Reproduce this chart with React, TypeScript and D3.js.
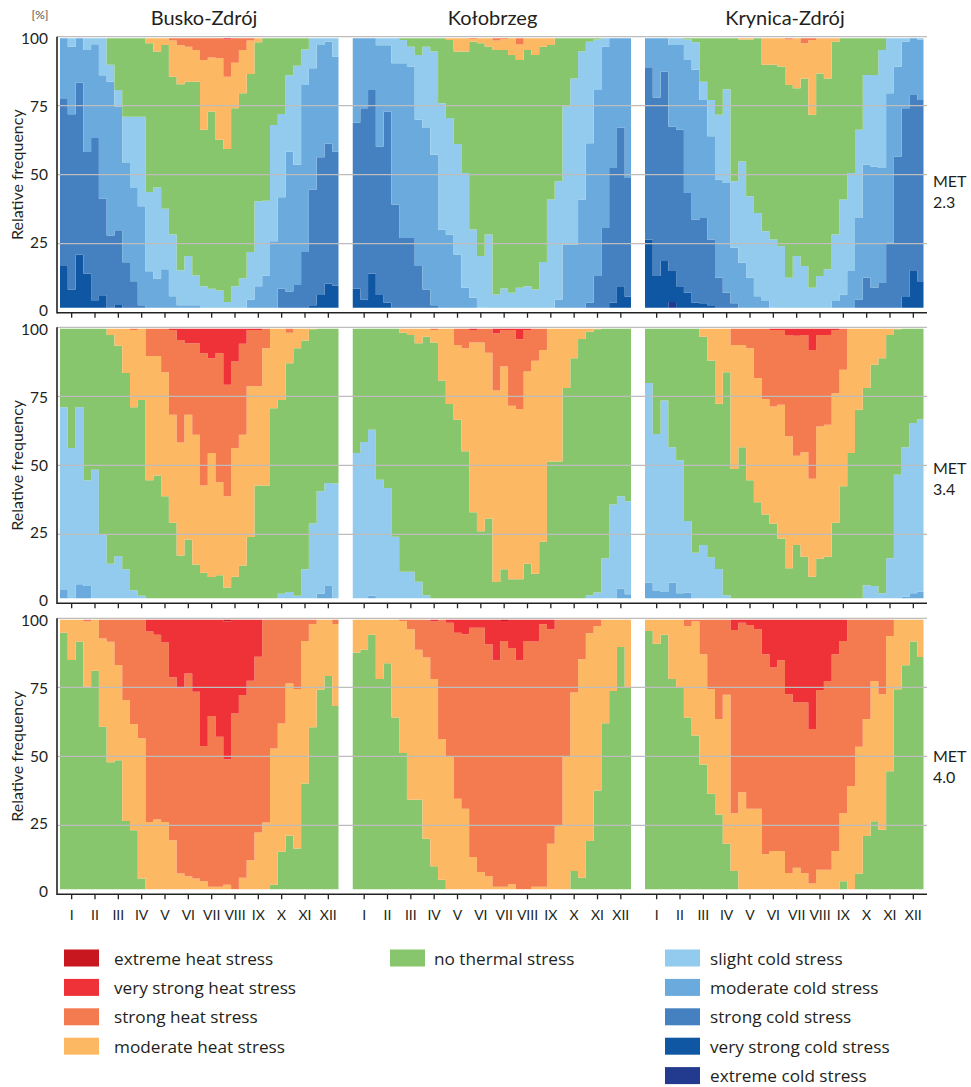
import React from 'react';
import * as d3 from 'd3';

type Key = 'ec' | 'vsc' | 'sc' | 'mc' | 'slc' | 'none' | 'mh' | 'sh' | 'vsh' | 'eh';

// ---- categories / labels ----
const MONTHS = ['I', 'II', 'III', 'IV', 'V', 'VI', 'VII', 'VIII', 'IX', 'X', 'XI', 'XII'];
const STATIONS = ['Busko-Zdrój', 'Kołobrzeg', 'Krynica-Zdrój'];
const MET_LEVELS = ['2.3', '3.4', '4.0'];
const Y_TICKS = [0, 25, 50, 75, 100];

const CATEGORY_LABELS: Record<Key, string> = {
  eh: 'extreme heat stress',
  vsh: 'very strong heat stress',
  sh: 'strong heat stress',
  mh: 'moderate heat stress',
  none: 'no thermal stress',
  slc: 'slight cold stress',
  mc: 'moderate cold stress',
  sc: 'strong cold stress',
  vsc: 'very strong cold stress',
  ec: 'extreme cold stress',
};
const CATEGORY_COLORS: Record<Key, string> = {
  eh: '#c8171e',
  vsh: '#ef3237',
  sh: '#f47b4f',
  mh: '#fdb863',
  none: '#88c66e',
  slc: '#92cbee',
  mc: '#6aaadd',
  sc: '#4580c1',
  vsc: '#0f57a2',
  ec: '#233b8e',
};
const LEGEND_COLUMNS: Key[][] = [
  ['eh', 'vsh', 'sh', 'mh'],
  ['none'],
  ['slc', 'mc', 'sc', 'vsc', 'ec'],
];

// ---- data: cumulative upper bound [%] of each class, 36 ten-day periods ----
// Busko-Zdrój, MET 2.3
const busko23_vsc = [17.2, 8.4, 21, 14.2, 4.5, 6.3, 1, 2.8, 0, 0, 0, 0, 0, 0, 0, 0, 0, 0, 0, 0, 0, 0, 0, 0, 0, 0, 0, 0, 0, 0, 0, 0, 2.7, 6.4, 10.5, 9.9];
const busko23_sc = [77.7, 71.9, 83.4, 58.2, 63.3, 41.3, 28, 29.9, 18.3, 11.4, 2.7, 0, 0, 0, 0, 0, 0, 0, 0, 0, 0, 0, 0, 0, 0, 0, 0, 1, 8.7, 7.7, 10, 22, 44.6, 56.3, 61.2, 58.4];
const busko23_mc = [100, 96.4, 100, 95.2, 97.3, 86, 83.7, 74.7, 54.2, 45.2, 38.6, 15, 12.4, 15.7, 6, 2.7, 2.7, 2.7, 0, 0, 0, 0, 0, 0, 4.8, 9.6, 13.5, 25.9, 41.8, 58.4, 53.6, 82.5, 88.6, 97, 98.2, 92.8];
const busko23_slc = [100, 100, 100, 100, 100, 100, 89.8, 80.7, 71, 71, 71, 43.7, 45.4, 37.7, 28.3, 15.4, 20.5, 13.5, 9.6, 8.7, 8, 3.9, 9.6, 12.5, 22, 40.4, 40.6, 68, 72, 86, 89.5, 95.4, 100, 100, 100, 100];
const busko23_none = [100, 100, 100, 100, 100, 100, 100, 100, 100, 100, 100, 97.6, 94.6, 97, 85.5, 82.8, 83.7, 83.7, 66.3, 72.9, 62.7, 59.3, 74.1, 79.5, 86.5, 98, 100, 100, 100, 100, 100, 100, 100, 100, 100, 100];
const busko23_mh = [100, 100, 100, 100, 100, 100, 100, 100, 100, 100, 100, 100, 100, 100, 98.6, 97, 96.4, 95.2, 91.6, 92.5, 92.2, 85.5, 90.6, 95.2, 98.6, 100, 100, 100, 100, 100, 100, 100, 100, 100, 100, 100];
const busko23_sh = [100, 100, 100, 100, 100, 100, 100, 100, 100, 100, 100, 100, 100, 100, 100, 100, 100, 100, 100, 100, 100, 99, 100, 100, 100, 100, 100, 100, 100, 100, 100, 100, 100, 100, 100, 100];

// Kołobrzeg, MET 2.3
const kolo23_vsc = [8.7, 4.8, 14.2, 6.4, 3.6, 0, 0, 0, 0, 0, 0, 0, 0, 0, 0, 0, 0, 0, 0, 0, 0, 0, 0, 0, 0, 0, 0, 0, 0, 0, 0, 0, 0, 3.6, 9.6, 5.8];
const kolo23_sc = [68.9, 74.1, 80.7, 60.2, 72.9, 39.2, 27.1, 27.1, 16.9, 8.4, 2.7, 0, 0, 0, 0, 0, 0, 0, 0, 0, 0, 0, 0, 0, 0, 0, 0, 0, 0, 1, 3.6, 13.3, 30.7, 52.4, 67.1, 48.8];
const kolo23_mc = [100, 100, 100, 96.9, 96.9, 90.4, 90.4, 89.2, 69.9, 66.9, 57.2, 30.1, 28.3, 21.1, 9, 5.4, 1.8, 0, 0, 0, 0, 0, 0, 0, 0, 0, 4.8, 24.7, 24.7, 41, 61.4, 80.7, 96.4, 100, 100, 100];
const kolo23_slc = [100, 100, 100, 100, 100, 100, 98.8, 96.4, 93.4, 96.4, 94.6, 75.9, 70.5, 61.1, 50.6, 30.1, 20.5, 28.3, 6.6, 8.8, 7.2, 9, 9.6, 8.4, 18.4, 41, 47.6, 74.7, 84.9, 94.6, 98.2, 99, 100, 100, 100, 100];
const kolo23_none = [100, 100, 100, 100, 100, 100, 100, 100, 100, 100, 100, 100, 98.8, 94.6, 94.6, 98.2, 97.6, 96.4, 95.2, 95.2, 93.4, 91.6, 95.2, 93.4, 96.4, 97, 100, 100, 100, 100, 100, 100, 100, 100, 100, 100];
const kolo23_mh = [100, 100, 100, 100, 100, 100, 100, 100, 100, 100, 100, 100, 100, 100, 100, 99.2, 100, 100, 98.6, 99.2, 100, 97.2, 100, 100, 100, 100, 100, 100, 100, 100, 100, 100, 100, 100, 100, 100];

// Krynica-Zdrój, MET 2.3
const kryn23_ec = [0, 0, 0, 3.9, 0, 0, 0, 0, 0, 0, 0, 0, 0, 0, 0, 0, 0, 0, 0, 0, 0, 0, 0, 0, 0, 0, 0, 0, 0, 0, 0, 0, 0, 0, 0, 0];
const kryn23_vsc = [26.5, 13.3, 18.7, 15.1, 9.6, 7.2, 3.6, 3.4, 2.7, 0, 0, 0, 0, 0, 0, 0, 0, 0, 0, 0, 0, 0, 0, 0, 0, 0, 0, 0, 0, 0, 0, 0, 0, 5.7, 15.4, 11.4];
const kryn23_sc = [88.9, 78, 87.3, 67.5, 66.3, 43.4, 33.7, 34.3, 26.5, 12.7, 7.2, 3.4, 0, 0, 0, 0, 0, 0, 0, 0, 0, 0, 0, 0, 0, 0, 0, 4.8, 12.7, 9, 10.8, 25.3, 56.6, 74.1, 78.9, 77.1];
const kryn23_mc = [100, 100, 100, 97, 97, 91.6, 88, 77.1, 63.9, 48.2, 47, 23.5, 18.1, 12.7, 6, 4.2, 0, 0, 0, 0, 0, 0, 0, 0, 4.2, 6.6, 15.1, 34.3, 53.6, 53, 52.4, 79.5, 89.2, 98.2, 100, 99];
const kryn23_slc = [100, 100, 100, 100, 100, 99, 98, 83.7, 77.1, 71.7, 81, 47.6, 54.8, 42.2, 36.1, 29.5, 26.5, 24.1, 12.7, 20.5, 16.9, 9, 13.3, 15.7, 28.3, 41, 50.6, 66.3, 86.1, 86.1, 95.2, 100, 100, 100, 100, 100];
const kryn23_none = [100, 100, 100, 100, 100, 100, 100, 100, 100, 100, 100, 100, 99, 99, 100, 89.8, 89.8, 89.2, 82.5, 81.3, 84.9, 71.7, 86.7, 84.9, 98.2, 100, 100, 100, 100, 100, 100, 100, 100, 100, 100, 100];
const kryn23_mh = [100, 100, 100, 100, 100, 100, 100, 100, 100, 100, 100, 100, 100, 100, 100, 100, 100, 100, 99, 100, 97.6, 98.8, 99.4, 99.4, 100, 100, 100, 100, 100, 100, 100, 100, 100, 100, 100, 100];

// Busko-Zdrój, MET 3.4
const busko34_mc = [4.8, 0, 6.9, 6.3, 0, 0, 0, 0, 0, 0, 0, 0, 0, 0, 0, 0, 0, 0, 0, 0, 0, 0, 0, 0, 0, 0, 0, 0, 0, 0, 0, 0, 0, 3.5, 6.3, 0];
const busko34_slc = [71, 56.3, 71, 44.6, 48.4, 24.9, 14.3, 17.1, 12.3, 4.7, 2.7, 1.7, 0, 0, 0, 0, 0, 0, 0, 0, 0, 0, 0, 0, 0, 0, 0, 0, 3.5, 4.1, 2.7, 12.3, 28.9, 40.6, 43.6, 43.4];
const busko34_none = [100, 100, 100, 100, 100, 100, 97.2, 93.3, 83.4, 71, 73.7, 44.6, 46.3, 38.8, 29.2, 17.3, 23.1, 14.1, 11.1, 9.5, 10.2, 5.7, 9.6, 13.7, 24, 42.7, 42.7, 70.7, 73.7, 87, 92.4, 95.2, 99.3, 100, 100, 100];
const busko34_mh = [100, 100, 100, 100, 100, 100, 100, 100, 100, 99, 100, 89.6, 89.6, 83.7, 68.3, 58.3, 68.3, 61.1, 42.7, 54.5, 43.9, 38.8, 56.3, 61.1, 78.6, 78.6, 92.4, 100, 100, 98, 100, 100, 100, 100, 100, 100];
const busko34_sh = [100, 100, 100, 100, 100, 100, 100, 100, 100, 100, 100, 100, 100, 100, 99, 95.4, 94.2, 94.2, 90.6, 88.8, 90.6, 79.2, 87.6, 94, 99, 99, 100, 100, 100, 100, 100, 100, 100, 100, 100, 100];

// Kołobrzeg, MET 3.4
const kolo34_mc = [0, 0, 2.7, 0, 0, 0, 0, 0, 0, 0, 0, 0, 0, 0, 0, 0, 0, 0, 0, 0, 0, 0, 0, 0, 0, 0, 0, 0, 0, 0, 0, 0, 0, 0, 5.4, 3.3];
const kolo34_slc = [54.5, 58.4, 62.9, 44.8, 41.8, 24.1, 11.4, 11.4, 7.8, 2.9, 0, 0, 0, 0, 0, 0, 0, 0, 0, 0, 0, 0, 0, 0, 0, 0, 0, 0, 0, 0, 2.9, 3.9, 16.3, 35.8, 38.8, 37];
const kolo34_none = [100, 100, 100, 100, 100, 100, 98, 97.2, 94.2, 96.6, 94.5, 80.7, 72.2, 66.5, 55.1, 33, 26.1, 30.7, 7.7, 12.3, 8.7, 8.7, 14.3, 10.7, 22.3, 51.4, 51.4, 78, 88.8, 95.8, 98.4, 99.3, 100, 100, 100, 100];
const kolo34_mh = [100, 100, 100, 100, 100, 100, 100, 100, 100, 100, 99, 100, 100, 93.6, 92.4, 94.5, 94.5, 90.8, 77.1, 85.8, 71.6, 70.4, 84, 87.9, 91.8, 100, 100, 100, 100, 100, 100, 100, 100, 100, 100, 100];
const kolo34_sh = [100, 100, 100, 100, 100, 100, 100, 100, 100, 100, 100, 100, 100, 100, 100, 99, 100, 100, 97.8, 99, 99, 95.7, 99, 100, 100, 100, 100, 100, 100, 100, 100, 100, 100, 100, 100, 100];

// Krynica-Zdrój, MET 3.4
const kryn34_mc = [7.5, 4.5, 4.1, 7.5, 3.6, 3.9, 0, 0, 0, 0, 0, 0, 0, 0, 0, 0, 0, 0, 0, 0, 0, 0, 0, 0, 0, 0, 0, 0, 0, 0, 0, 0, 0, 2.4, 3.6, 4.2];
const kryn34_slc = [79.8, 61.3, 73.5, 56.5, 51.8, 29.8, 18.3, 21.1, 16.6, 12.4, 2.9, 0, 0, 0, 0, 0, 0, 0, 0, 0, 0, 0, 0, 0, 0, 0, 0, 0, 6.5, 6.3, 3.6, 16.3, 46.6, 56.5, 65.3, 66.7];
const kryn34_none = [100, 100, 100, 100, 100, 100, 100, 96.6, 88, 72.3, 83.7, 48.7, 56.5, 44.6, 36.6, 32.2, 28.9, 23.5, 12.7, 21.1, 16.9, 9.6, 16.1, 16.9, 29.2, 42.4, 54.5, 70.1, 78, 86.4, 88.8, 97.2, 99.3, 100, 100, 100];
const kryn34_mh = [100, 100, 100, 100, 100, 100, 100, 100, 100, 100, 100, 93.6, 93.6, 92.4, 81.6, 74, 71.3, 71.9, 60.5, 53.5, 54.7, 45.1, 64.1, 64.7, 76.1, 84.6, 100, 100, 100, 100, 100, 100, 100, 100, 100, 100];
const kryn34_sh = [100, 100, 100, 100, 100, 100, 100, 100, 100, 100, 100, 100, 100, 100, 100, 100, 99, 99, 97.2, 96.9, 97.2, 91.8, 97.2, 97.2, 99, 100, 100, 100, 100, 100, 100, 100, 100, 100, 100, 100];

// Busko-Zdrój, MET 4.0
const busko40_none = [94.8, 84.9, 91.5, 75.2, 81, 60.7, 47.8, 48.6, 26.6, 23.2, 5.7, 0, 0, 0, 0, 0, 0, 0, 0, 0, 0, 0, 0, 0, 0, 0, 0, 3.5, 15.4, 21.2, 16.6, 40.1, 60.5, 74.2, 79.1, 68.2];
const busko40_mh = [100, 100, 100, 98.8, 100, 92.7, 91.5, 83.1, 70.4, 61.7, 56.5, 26.2, 27.1, 26.2, 19.6, 7.5, 6.5, 5.7, 4.7, 2.7, 2.7, 3.5, 1.7, 6, 12.3, 22.4, 26, 52.8, 61.9, 76.4, 74.4, 91.8, 97.9, 100, 100, 97.9];
const busko40_sh = [100, 100, 100, 100, 100, 100, 100, 100, 100, 100, 100, 95.2, 94, 91.2, 78.6, 74.6, 80, 73.4, 53.7, 64.6, 57.1, 48.9, 65.5, 72.2, 77.4, 86.1, 100, 100, 100, 100, 100, 100, 100, 100, 100, 100];
const busko40_vsh = [100, 100, 100, 100, 100, 100, 100, 100, 100, 100, 100, 100, 100, 100, 100, 100, 100, 100, 100, 100, 100, 98.8, 100, 100, 100, 100, 100, 100, 100, 100, 100, 100, 100, 100, 100, 100];

// Kołobrzeg, MET 4.0
const kolo40_none = [87.6, 88.6, 94, 78, 83.7, 64.1, 51.2, 34.3, 34.3, 20.1, 10.2, 5.3, 0, 0, 0, 0, 0, 0, 0, 0, 0, 0, 0, 0, 0, 0, 0, 0, 8.4, 6, 19.3, 37.6, 62, 73.7, 89.6, 74.9];
const kolo40_mh = [100, 100, 100, 100, 100, 100, 99, 96, 88.6, 85.8, 78, 56.3, 50, 34.6, 31, 13.5, 8.1, 6.6, 2.7, 2.7, 3.6, 1.7, 1.7, 2.7, 2.7, 18.3, 24.9, 50, 73.1, 85.2, 94.6, 97.2, 100, 100, 100, 100];
const kolo40_sh = [100, 100, 100, 100, 100, 100, 100, 100, 100, 100, 98.8, 100, 98.4, 94.8, 94.2, 96.6, 96.6, 90.6, 84.8, 91.8, 89.2, 84.8, 91.8, 91.6, 97.8, 96, 100, 100, 100, 100, 100, 100, 100, 100, 100, 100];
const kolo40_vsh = [100, 100, 100, 100, 100, 100, 100, 100, 100, 100, 100, 100, 100, 100, 100, 100, 100, 100, 100, 99, 100, 100, 100, 100, 100, 100, 100, 100, 100, 100, 100, 100, 100, 100, 100, 100];

// Krynica-Zdrój, MET 4.0
const kryn40_none = [95.4, 90.8, 94, 78, 74.9, 64.1, 57.5, 47, 36.4, 28.9, 18.3, 8.4, 0, 0, 0, 0, 0, 0, 0, 0, 0, 0, 0, 0, 0, 4.7, 0, 7.5, 21.1, 26.5, 23.4, 44.6, 74.3, 83, 91.6, 86];
const kryn40_mh = [100, 100, 100, 100, 100, 97.2, 98.8, 87, 74.3, 63.5, 72.3, 29.4, 37, 31, 31, 14.5, 15.7, 15.7, 7.7, 9.6, 7.7, 3.9, 8.9, 8.9, 15.7, 29.4, 39.2, 53.5, 63.5, 77.3, 72.5, 93.6, 100, 100, 100, 100];
const kryn40_sh = [100, 100, 100, 100, 100, 100, 100, 100, 100, 100, 100, 95.8, 98.4, 97.6, 96, 87, 82.2, 84.8, 72.5, 69.5, 69.5, 59.9, 74, 77.3, 87, 91.8, 100, 100, 100, 100, 100, 100, 100, 100, 100, 100];

// layers bottom -> top; the top-most layer (null) fills up to 100 %
type Layer = [Key, number[] | null];
const PANELS: Layer[][][] = [
  [
    [['vsc', busko23_vsc], ['sc', busko23_sc], ['mc', busko23_mc], ['slc', busko23_slc], ['none', busko23_none], ['mh', busko23_mh], ['sh', busko23_sh], ['vsh', null]],
    [['vsc', kolo23_vsc], ['sc', kolo23_sc], ['mc', kolo23_mc], ['slc', kolo23_slc], ['none', kolo23_none], ['mh', kolo23_mh], ['sh', null]],
    [['ec', kryn23_ec], ['vsc', kryn23_vsc], ['sc', kryn23_sc], ['mc', kryn23_mc], ['slc', kryn23_slc], ['none', kryn23_none], ['mh', kryn23_mh], ['sh', null]],
  ],
  [
    [['mc', busko34_mc], ['slc', busko34_slc], ['none', busko34_none], ['mh', busko34_mh], ['sh', busko34_sh], ['vsh', null]],
    [['mc', kolo34_mc], ['slc', kolo34_slc], ['none', kolo34_none], ['mh', kolo34_mh], ['sh', kolo34_sh], ['vsh', null]],
    [['mc', kryn34_mc], ['slc', kryn34_slc], ['none', kryn34_none], ['mh', kryn34_mh], ['sh', kryn34_sh], ['vsh', null]],
  ],
  [
    [['none', busko40_none], ['mh', busko40_mh], ['sh', busko40_sh], ['vsh', busko40_vsh], ['eh', null]],
    [['none', kolo40_none], ['mh', kolo40_mh], ['sh', kolo40_sh], ['vsh', kolo40_vsh], ['eh', null]],
    [['none', kryn40_none], ['mh', kryn40_mh], ['sh', kryn40_sh], ['vsh', null]],
  ],
];

// ---- layout ----
const W = 971;
const H = 1087;
const N = 36;
const PANEL_X = [60, 352.5, 645];
const PANEL_W = 280;
const ROW_TOP = [36.7, 327.3, 618.3];
const ROW_H = 276;
const AXIS_X = 57;
const AXIS_RIGHT = 927;
const MET_DY = [6, 2.5, -1];
const FONT = "Lato, 'Open Sans', 'DejaVu Sans', sans-serif";
const LEGEND_FONT = "'Open Sans', Lato, 'DejaVu Sans', sans-serif";
const TEXT = '#231f20';

function PanelAreas({ layers, x, y, clipId }: { layers: Layer[]; x: d3.ScaleLinear<number, number>; y: d3.ScaleLinear<number, number>; clipId: string }) {
  const idx = d3.range(N + 1);
  let prev: number[] = new Array(N).fill(0);
  const paths = layers.map(([key, tops], li) => {
    const bottom = prev;
    const top = tops ?? new Array(N).fill(100);
    prev = top;
    const at = (arr: number[], i: number) => arr[Math.min(i, N - 1)];
    const area = d3
      .area<number>()
      .x((i) => x(i))
      .y0((i) => y(at(bottom, i)))
      .y1((i) => y(Math.max(at(top, i), at(bottom, i))))
      .curve(d3.curveStepAfter);
    return <path key={li} d={area(idx) ?? ''} fill={CATEGORY_COLORS[key]} />;
  });
  return <g clipPath={`url(#${clipId})`}>{paths}</g>;
}

export default function App() {
  return (
    <svg width={W} height={H} style={{ position: 'absolute', left: 0, top: 0, background: '#fff' }} fontFamily={FONT}>
      <rect x={0} y={0} width={W} height={H} fill="#fff" />
      <defs>
        {ROW_TOP.map((top, r) =>
          PANEL_X.map((px, c) => (
            <clipPath key={`c${r}${c}`} id={`clip-${r}-${c}`}>
              <rect x={px} y={top + 1.5} width={PANEL_W - 1.5} height={ROW_H - 6.5} />
            </clipPath>
          ))
        )}
      </defs>

      <text x={40} y={19} fontSize={12} fill="#555" textAnchor="middle">[%]</text>

      {STATIONS.map((s, c) => (
        <text key={s} x={PANEL_X[c] + PANEL_W / 2 + (c === 0 ? 4 : 0)} y={25} fontSize={20} fill={TEXT} textAnchor="middle">
          {s}
        </text>
      ))}

      {ROW_TOP.map((top, r) => {
        const y = d3.scaleLinear().domain([0, 100]).range([top + ROW_H, top]);
        const y0 = y(0);
        return (
          <g key={`row${r}`}>
            {PANEL_X.map((px, c) => {
              const x = d3.scaleLinear().domain([0, N]).range([px, px + PANEL_W]);
              return <PanelAreas key={c} layers={PANELS[r][c]} x={x} y={y} clipId={`clip-${r}-${c}`} />;
            })}
            {Y_TICKS.filter((v) => v > 0).map((v) => (
              <line key={v} x1={AXIS_X} x2={AXIS_RIGHT} y1={y(v)} y2={y(v)} stroke="#bdbdbd" strokeWidth={1.3} />
            ))}
            <line x1={AXIS_X} x2={AXIS_X} y1={top} y2={y0 + 0.8} stroke="#222" strokeWidth={1.6} />
            <line x1={AXIS_X} x2={AXIS_RIGHT} y1={y0} y2={y0} stroke="#222" strokeWidth={1.6} />
            {PANEL_X.map((px, c) => {
              const x = d3.scaleLinear().domain([0, N]).range([px, px + PANEL_W]);
              return MONTHS.map((m, mi) => (
                <line key={`t${c}${mi}`} x1={x(mi * 3 + 1.5)} x2={x(mi * 3 + 1.5)} y1={y0} y2={y0 + 5} stroke="#222" strokeWidth={1.3} />
              ));
            })}
            {Y_TICKS.map((v) => (
              <text key={`yl${v}`} x={48} y={y(v) - 3 + 0.045 * v} fontSize={15.5} fill={TEXT} textAnchor="end" dominantBaseline="central">
                {v}
              </text>
            ))}
            <text
              transform={`translate(16, ${top + ROW_H / 2}) rotate(-90)`}
              fontSize={16}
              fill={TEXT}
              textAnchor="middle"
              dominantBaseline="central"
            >
              Relative frequency
            </text>
            <text x={933} y={y(50) + MET_DY[r]} fontSize={16} fill={TEXT} dominantBaseline="central">MET</text>
            <text x={933} y={y(50) + MET_DY[r] + 21} fontSize={16} fill={TEXT} dominantBaseline="central">{MET_LEVELS[r]}</text>
          </g>
        );
      })}

      {PANEL_X.map((px, c) => {
        const x = d3.scaleLinear().domain([0, N]).range([px, px + PANEL_W]);
        return MONTHS.map((m, mi) => (
          <text key={`m${c}${mi}`} x={x(mi * 3 + 1.5)} y={914} fontSize={14} fill={TEXT} textAnchor="middle" dominantBaseline="central">
            {m}
          </text>
        ));
      })}

      {LEGEND_COLUMNS.map((col, ci) => {
        const sx = [64, 390, 665][ci];
        const tx = [114, 434, 710][ci];
        return col.map((k, ri) => {
          const cy = 958 + ri * 29.4;
          return (
            <g key={k}>
              <rect x={sx} y={cy - 8.5} width={35} height={17} fill={CATEGORY_COLORS[k]} />
              <text x={tx} y={cy} fontSize={17.2} fontFamily={LEGEND_FONT} fill={TEXT} dominantBaseline="central">
                {CATEGORY_LABELS[k]}
              </text>
            </g>
          );
        });
      })}
    </svg>
  );
}
